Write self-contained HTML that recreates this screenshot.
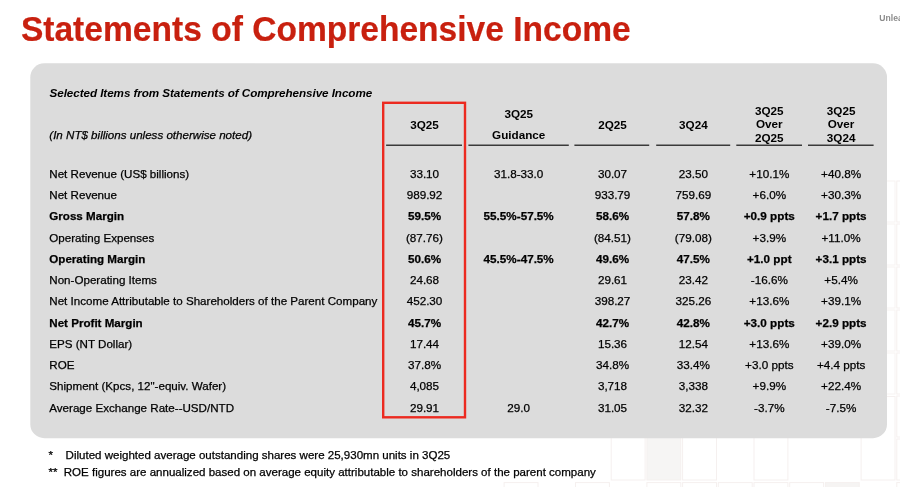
<!DOCTYPE html>
<html><head><meta charset="utf-8"><title>Statements of Comprehensive Income</title>
<style>
html,body{margin:0;padding:0;background:#fff;}
body{width:900px;height:487px;position:relative;overflow:hidden;font-family:"Liberation Sans",sans-serif;color:#000;}
.title{position:absolute;left:20.9px;top:7.76px;transform-origin:0 33.64px;transform:scaleY(1.06);-webkit-text-stroke:0.2px #c8200f;font-size:33.57px;font-weight:bold;color:#c8200f;white-space:nowrap;line-height:44px}
.unl{position:absolute;left:879.3px;top:12.42px;font-size:8.6px;color:#8c8c8c;font-weight:bold;white-space:nowrap;line-height:12px}
.r,.h,.sel,.note,.f{position:absolute;font-size:11.7px;line-height:16px;white-space:nowrap;}
.r,.note,.f{-webkit-text-stroke:0.25px #000}
.b{font-weight:bold}
.l{left:49.3px;font-size:11.6px}
.c{width:100px;text-align:center}
.h{font-weight:bold;width:100px;text-align:center}
.ov{position:absolute;left:0;top:0}
.f{font-size:11.54px}
.sel{left:49.5px;top:84.55px;font-weight:bold;font-style:italic;letter-spacing:-0.075px}
.note{left:49.3px;font-size:11.58px;top:126.95px;font-style:italic}
</style></head><body>
<div class="title">Statements of Comprehensive Income</div>
<div class="unl">Unleashing</div>
<svg class="ov" width="900" height="487" viewBox="0 0 900 487"><rect x="611.2" y="396.5" width="33.9" height="83.5" fill="none" stroke="#f5f0ef" stroke-width="1"/><rect x="646.9" y="396.5" width="33.9" height="83.5" fill="#f6f5f4" stroke="#f5f0ef" stroke-width="1"/><rect x="682.6" y="396.5" width="33.9" height="83.5" fill="none" stroke="#f5f0ef" stroke-width="1"/><rect x="754.0" y="396.5" width="33.9" height="83.5" fill="none" stroke="#f5f0ef" stroke-width="1"/><rect x="861.1" y="396.5" width="33.9" height="83.5" fill="none" stroke="#f5f0ef" stroke-width="1"/><rect x="504.1" y="482.6" width="33.9" height="41" fill="none" stroke="#f5f0ef" stroke-width="1"/><rect x="575.5" y="482.6" width="33.9" height="41" fill="none" stroke="#f5f0ef" stroke-width="1"/><rect x="646.9" y="482.6" width="33.9" height="41" fill="none" stroke="#f5f0ef" stroke-width="1"/><rect x="682.6" y="482.6" width="33.9" height="41" fill="none" stroke="#f5f0ef" stroke-width="1"/><rect x="718.3" y="482.6" width="33.9" height="41" fill="none" stroke="#f5f0ef" stroke-width="1"/><rect x="754.0" y="482.6" width="33.9" height="41" fill="none" stroke="#f5f0ef" stroke-width="1"/><rect x="789.7" y="482.6" width="33.9" height="41" fill="none" stroke="#f5f0ef" stroke-width="1"/><rect x="825.4" y="482.6" width="33.9" height="41" fill="#f6f4f3" stroke="#f5f0ef" stroke-width="1"/><rect x="896.8" y="181" width="34" height="41" fill="none" stroke="#f5f0ef" stroke-width="1"/><rect x="896.8" y="224" width="34" height="41" fill="none" stroke="#f5f0ef" stroke-width="1"/><rect x="896.8" y="267" width="34" height="41" fill="none" stroke="#f5f0ef" stroke-width="1"/><rect x="896.8" y="310" width="34" height="41" fill="none" stroke="#f5f0ef" stroke-width="1"/><rect x="896.8" y="353" width="34" height="41" fill="none" stroke="#f5f0ef" stroke-width="1"/><rect x="896.8" y="396" width="34" height="41" fill="none" stroke="#f5f0ef" stroke-width="1"/><rect x="896.8" y="439" width="34" height="41" fill="none" stroke="#f5f0ef" stroke-width="1"/><rect x="896.8" y="482.6" width="34" height="41" fill="none" stroke="#f5f0ef" stroke-width="1"/><rect x="861.1" y="181" width="33.9" height="41" fill="none" stroke="#f7f3f2" stroke-width="1"/><rect x="861.1" y="224" width="33.9" height="41" fill="none" stroke="#f7f3f2" stroke-width="1"/><rect x="861.1" y="267" width="33.9" height="41" fill="none" stroke="#f7f3f2" stroke-width="1"/><rect x="861.1" y="310" width="33.9" height="41" fill="none" stroke="#f7f3f2" stroke-width="1"/><rect x="861.1" y="353" width="33.9" height="41" fill="none" stroke="#f7f3f2" stroke-width="1"/><rect x="30.3" y="63.3" width="856.7" height="374.9" rx="14" ry="14" fill="#dcdcdc"/></svg>
<div class="sel">Selected Items from Statements of Comprehensive Income</div>
<div class="note">(In NT$ billions unless otherwise noted)</div>
<div class="h" style="left:374.5px;top:116.75px">3Q25</div>
<div class="h" style="left:468.7px;top:106.05px">3Q25</div>
<div class="h" style="left:468.7px;top:127.05px">Guidance</div>
<div class="h" style="left:562.5px;top:116.75px">2Q25</div>
<div class="h" style="left:643.4px;top:116.75px">3Q24</div>
<div class="h" style="left:719.3px;top:102.85px">3Q25</div>
<div class="h" style="left:719.3px;top:116.45px">Over</div>
<div class="h" style="left:719.3px;top:130.05px">2Q25</div>
<div class="h" style="left:791.1px;top:102.85px">3Q25</div>
<div class="h" style="left:791.1px;top:116.45px">Over</div>
<div class="h" style="left:791.1px;top:130.05px">3Q24</div>
<svg class="ov" width="900" height="487" viewBox="0 0 900 487"><line x1="386.1" x2="462" y1="145.3" y2="145.3" stroke="#3a3a3a" stroke-width="1.5"/><line x1="468.4" x2="568.8" y1="145.3" y2="145.3" stroke="#3a3a3a" stroke-width="1.5"/><line x1="574.4" x2="649.2" y1="145.3" y2="145.3" stroke="#3a3a3a" stroke-width="1.5"/><line x1="656.2" x2="730.2" y1="145.3" y2="145.3" stroke="#3a3a3a" stroke-width="1.5"/><line x1="736.3" x2="802" y1="145.3" y2="145.3" stroke="#3a3a3a" stroke-width="1.5"/><line x1="808" x2="873.6" y1="145.3" y2="145.3" stroke="#3a3a3a" stroke-width="1.5"/><rect x="383.2" y="102.8" width="81.8" height="314.5" fill="none" stroke="#ec2a20" stroke-width="2.4"/></svg>
<div class="r l" style="top:165.75px">Net Revenue (US$ billions)</div>
<div class="r c" style="top:165.75px;left:374.5px">33.10</div>
<div class="r c" style="top:165.75px;left:468.7px">31.8-33.0</div>
<div class="r c" style="top:165.75px;left:562.5px">30.07</div>
<div class="r c" style="top:165.75px;left:643.4px">23.50</div>
<div class="r c" style="top:165.75px;left:719.3px">+10.1%</div>
<div class="r c" style="top:165.75px;left:791.1px">+40.8%</div>
<div class="r l" style="top:187.00px">Net Revenue</div>
<div class="r c" style="top:187.00px;left:374.5px">989.92</div>
<div class="r c" style="top:187.00px;left:562.5px">933.79</div>
<div class="r c" style="top:187.00px;left:643.4px">759.69</div>
<div class="r c" style="top:187.00px;left:719.3px">+6.0%</div>
<div class="r c" style="top:187.00px;left:791.1px">+30.3%</div>
<div class="r b l" style="top:208.25px">Gross Margin</div>
<div class="r b c" style="top:208.25px;left:374.5px">59.5%</div>
<div class="r b c" style="top:208.25px;left:468.7px">55.5%-57.5%</div>
<div class="r b c" style="top:208.25px;left:562.5px">58.6%</div>
<div class="r b c" style="top:208.25px;left:643.4px">57.8%</div>
<div class="r b c" style="top:208.25px;left:719.3px">+0.9 ppts</div>
<div class="r b c" style="top:208.25px;left:791.1px">+1.7 ppts</div>
<div class="r l" style="top:229.50px">Operating Expenses</div>
<div class="r c" style="top:229.50px;left:374.5px">(87.76)</div>
<div class="r c" style="top:229.50px;left:562.5px">(84.51)</div>
<div class="r c" style="top:229.50px;left:643.4px">(79.08)</div>
<div class="r c" style="top:229.50px;left:719.3px">+3.9%</div>
<div class="r c" style="top:229.50px;left:791.1px">+11.0%</div>
<div class="r b l" style="top:250.75px">Operating Margin</div>
<div class="r b c" style="top:250.75px;left:374.5px">50.6%</div>
<div class="r b c" style="top:250.75px;left:468.7px">45.5%-47.5%</div>
<div class="r b c" style="top:250.75px;left:562.5px">49.6%</div>
<div class="r b c" style="top:250.75px;left:643.4px">47.5%</div>
<div class="r b c" style="top:250.75px;left:719.3px">+1.0 ppt</div>
<div class="r b c" style="top:250.75px;left:791.1px">+3.1 ppts</div>
<div class="r l" style="top:272.00px">Non-Operating Items</div>
<div class="r c" style="top:272.00px;left:374.5px">24.68</div>
<div class="r c" style="top:272.00px;left:562.5px">29.61</div>
<div class="r c" style="top:272.00px;left:643.4px">23.42</div>
<div class="r c" style="top:272.00px;left:719.3px">-16.6%</div>
<div class="r c" style="top:272.00px;left:791.1px">+5.4%</div>
<div class="r l" style="top:293.25px">Net Income Attributable to Shareholders of the Parent Company</div>
<div class="r c" style="top:293.25px;left:374.5px">452.30</div>
<div class="r c" style="top:293.25px;left:562.5px">398.27</div>
<div class="r c" style="top:293.25px;left:643.4px">325.26</div>
<div class="r c" style="top:293.25px;left:719.3px">+13.6%</div>
<div class="r c" style="top:293.25px;left:791.1px">+39.1%</div>
<div class="r b l" style="top:314.50px">Net Profit Margin</div>
<div class="r b c" style="top:314.50px;left:374.5px">45.7%</div>
<div class="r b c" style="top:314.50px;left:562.5px">42.7%</div>
<div class="r b c" style="top:314.50px;left:643.4px">42.8%</div>
<div class="r b c" style="top:314.50px;left:719.3px">+3.0 ppts</div>
<div class="r b c" style="top:314.50px;left:791.1px">+2.9 ppts</div>
<div class="r l" style="top:335.75px">EPS (NT Dollar)</div>
<div class="r c" style="top:335.75px;left:374.5px">17.44</div>
<div class="r c" style="top:335.75px;left:562.5px">15.36</div>
<div class="r c" style="top:335.75px;left:643.4px">12.54</div>
<div class="r c" style="top:335.75px;left:719.3px">+13.6%</div>
<div class="r c" style="top:335.75px;left:791.1px">+39.0%</div>
<div class="r l" style="top:357.00px">ROE</div>
<div class="r c" style="top:357.00px;left:374.5px">37.8%</div>
<div class="r c" style="top:357.00px;left:562.5px">34.8%</div>
<div class="r c" style="top:357.00px;left:643.4px">33.4%</div>
<div class="r c" style="top:357.00px;left:719.3px">+3.0 ppts</div>
<div class="r c" style="top:357.00px;left:791.1px">+4.4 ppts</div>
<div class="r l" style="top:378.25px">Shipment (Kpcs, 12&quot;-equiv. Wafer)</div>
<div class="r c" style="top:378.25px;left:374.5px">4,085</div>
<div class="r c" style="top:378.25px;left:562.5px">3,718</div>
<div class="r c" style="top:378.25px;left:643.4px">3,338</div>
<div class="r c" style="top:378.25px;left:719.3px">+9.9%</div>
<div class="r c" style="top:378.25px;left:791.1px">+22.4%</div>
<div class="r l" style="top:399.50px">Average Exchange Rate--USD/NTD</div>
<div class="r c" style="top:399.50px;left:374.5px">29.91</div>
<div class="r c" style="top:399.50px;left:468.7px">29.0</div>
<div class="r c" style="top:399.50px;left:562.5px">31.05</div>
<div class="r c" style="top:399.50px;left:643.4px">32.32</div>
<div class="r c" style="top:399.50px;left:719.3px">-3.7%</div>
<div class="r c" style="top:399.50px;left:791.1px">-7.5%</div>
<div class="f" style="left:48.6px;top:446.95px">*</div>
<div class="f" style="left:65.6px;top:446.95px">Diluted weighted average outstanding shares were 25,930mn units in 3Q25</div>
<div class="f" style="left:48.6px;top:464.25px">**</div>
<div class="f" style="left:63.8px;top:464.25px">ROE figures are annualized based on average equity attributable to shareholders of the parent company</div>
</body></html>
